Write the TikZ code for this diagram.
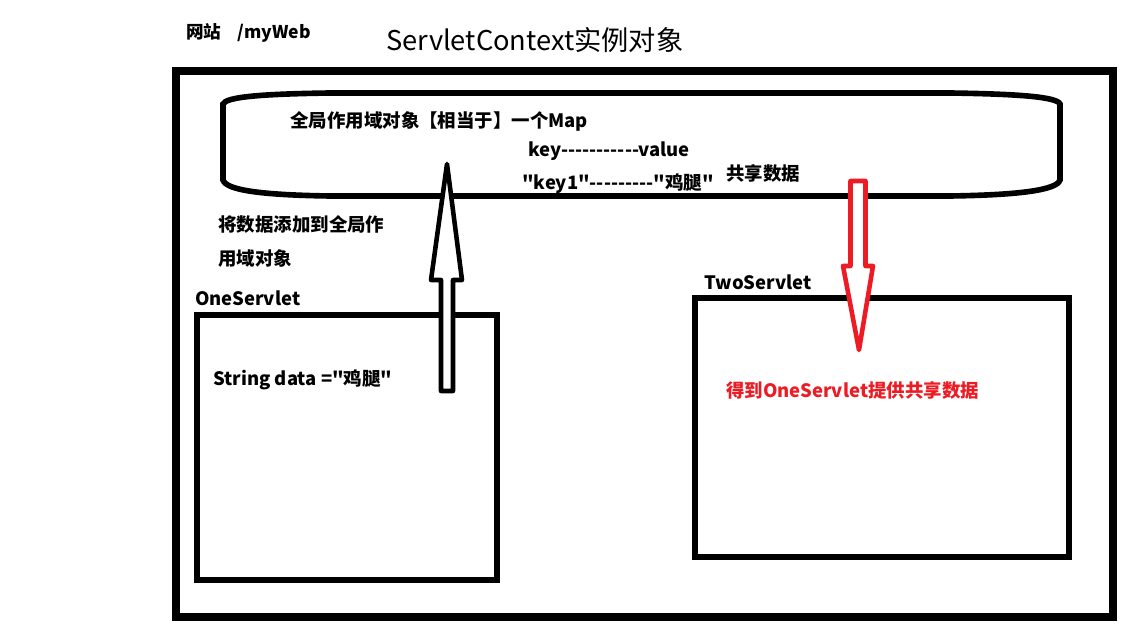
\documentclass[tikz,border=0pt]{standalone}
\usepackage{fontspec}
\newfontfamily\cjk{Noto Sans CJK SC}
\definecolor{paintred}{RGB}{237,28,36}
\newcommand\dashrun[1]{\foreach \d in {1,...,#1}{-}}
\begin{document}
\begin{tikzpicture}[x=0.02cm, y=-0.02cm,
  every node/.style={anchor=west, inner sep=0pt, font=\cjk\bfseries\fontsize{10.5}{12}\selectfont},
  frame/.style={line width=4pt},
  box/.style={line width=3.4pt},
  blockarrow/.style={line width=2.6pt, line join=round}]
  \useasboundingbox[fill=white] (0,0) rectangle (1140,638);
  % website and the context object
  \node[font=\cjk\bfseries\fontsize{10}{12}\selectfont] (web) at (186,33) {网站\ \ \ \ /myWeb};
  \node[font=\cjk\fontsize{15.5}{18}\selectfont] (title) at (386,40) {ServletContext实例对象};
  \draw[frame] (176,71) rectangle (1113,617);
  \draw[line width=3.2pt] (223,180) -- (223,104) .. controls (226,97) and (260,94) .. (330,93)
    -- (950,93) .. controls (1020,94) and (1057,97) .. (1060,104) -- (1060,180)
    .. controls (1057,190) and (1020,195) .. (950,196) -- (330,196)
    .. controls (260,195) and (226,190) .. (223,180) -- cycle;
  \node (map) at (290,121) {全局作用域对象【相当于】一个Map};
  \node (kv) at (528,151) {key\dashrun{11}value};
  \node (kv1) at (522,184) {"key1"\dashrun{9}"鸡腿"};
  \node (share) at (726,173) {共享数据};
  % servlets
  \node (add1) at (218,224) {将数据添加到全局作};
  \node (add2) at (218,259) {用域对象};
  \node (onelabel) at (195,298) {OneServlet};
  \draw[box] (197,315) rectangle (497,580);
  \node (data) at (213,380) {String data ="鸡腿"};
  \node (twolabel) at (704,282) {TwoServlet};
  \draw[box] (695,298) rectangle (1069,557);
  \node[text=paintred] (get) at (726,390) {得到OneServlet提供共享数据};
  % block arrows
  \draw[blockarrow, fill=white] (447,164) -- (462,280) -- (453,280) -- (453,391)
    -- (441,391) -- (441,280) -- (431,280) -- cycle;
  \draw[blockarrow, draw=paintred, fill=white] (850.5,181) -- (865.5,181) -- (865.5,266)
    -- (873,266) -- (859,350) -- (843,266) -- (850.5,266) -- cycle;
\end{tikzpicture}
\end{document}
